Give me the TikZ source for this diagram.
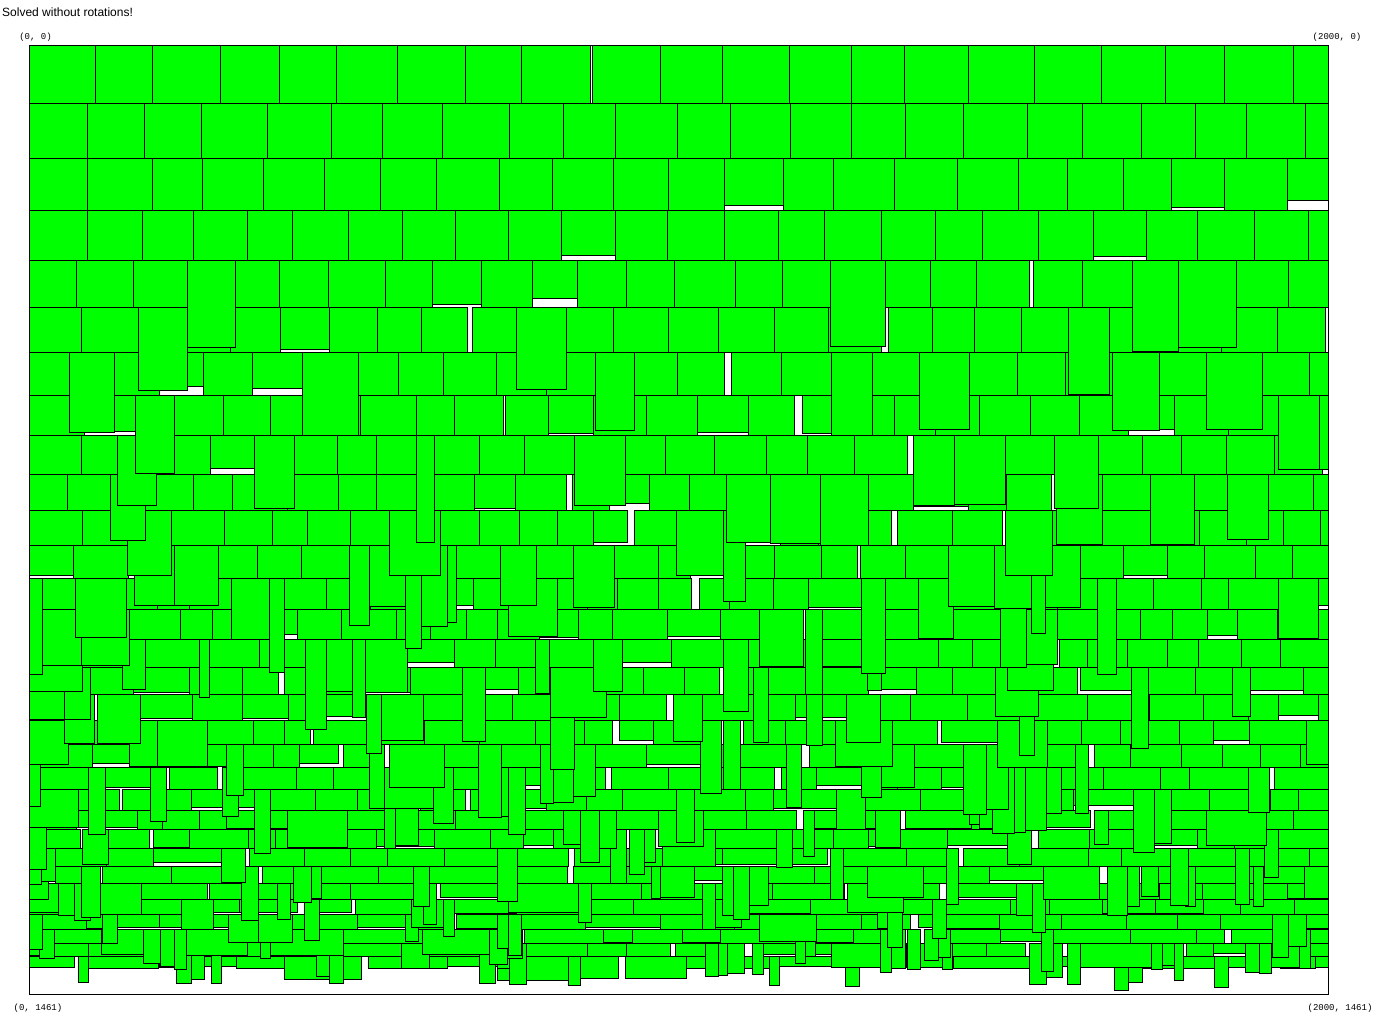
\documentclass[tikz,border=0pt]{standalone}
\usepackage{fontspec}
\setmainfont{Liberation Sans}
\newfontfamily\coordfont{Liberation Mono}
\definecolor{packgreen}{RGB}{0,255,0}

\begin{document}
\begin{tikzpicture}[x=1pt,y=-1pt,
    box/.style={draw=black,line width=1pt,fill=packgreen},
    corner/.style={font=\coordfont\fontsize{9}{11}\selectfont,inner sep=0pt}]
  \useasboundingbox (0,0) rectangle (1392,1028);
  \node[anchor=west,inner sep=0pt,font=\fontsize{12}{14}\selectfont] (title) at (2,12) {Solved without rotations!};
  \node[corner] (tl) at (35.5,37) {(0, 0)};
  \node[corner] (tr) at (1337,37) {(2000, 0)};
  \node[corner] (bl) at (38,1008) {(0, 1461)};
  \node[corner] (br) at (1340,1008) {(2000, 1461)};
  % shelves, drawn from the bottom up
  \pgfmathsetseed{31}
  \foreach \r in {30,29,...,0}{
    \pgfmathsetmacro\t{\r/30}
    \pgfmathsetmacro\h{58*0.95^\r}
    \pgfmathsetmacro\ytop{45+1160*(1-0.95^\r)}
    \pgfmathsetmacro\pv{0.4*max(0,\t-0.25)/0.75}
    \pgfmathsetmacro\pd{\r>3 ? 0.13 : 0}
    \pgfmathsetmacro\pg{0.03+0.14*\t}
    \pgfmathsetmacro\ps{0.03+0.25*\t}
    \def\xpos{29}
    \loop
      \pgfmathsetmacro\u{rnd}
      \ifdim\u pt<\pv pt
        % thin upright piece
        \pgfmathsetmacro\w{9+rnd*(8+16*(1-\t))}
        \pgfmathsetmacro\hh{min(\h*(1.7+rnd*1.5),990-\ytop)}
      \else
        \pgfmathsetmacro\w{(1-\t)*\h*(0.92+0.3*rnd)+\t*(25+60*rnd)}
        \pgfmathsetmacro\hh{rnd<\ps ? \h*(0.8+0.15*rnd) : \h}
        \pgfmathsetmacro\v{rnd}
        \ifdim\v pt<\pd pt
          \pgfmathsetmacro\hh{min(\h*(1.8+0.15*rnd),990-\ytop)}
        \fi
      \fi
      \pgfmathsetmacro\xend{min(\xpos+\w,1328)}
      \draw[box] (\xpos,\ytop) rectangle (\xend,\ytop+\hh);
      \pgfmathsetmacro\gap{rnd<\pg ? 2+rnd*6 : 0}
      \pgfmathsetmacro\xpos{\xend+\gap}
      \ifdim\xpos pt<1322pt
    \repeat
  }
  \draw[line width=1pt] (29,45) rectangle (1328,994);
\end{tikzpicture}
\end{document}
